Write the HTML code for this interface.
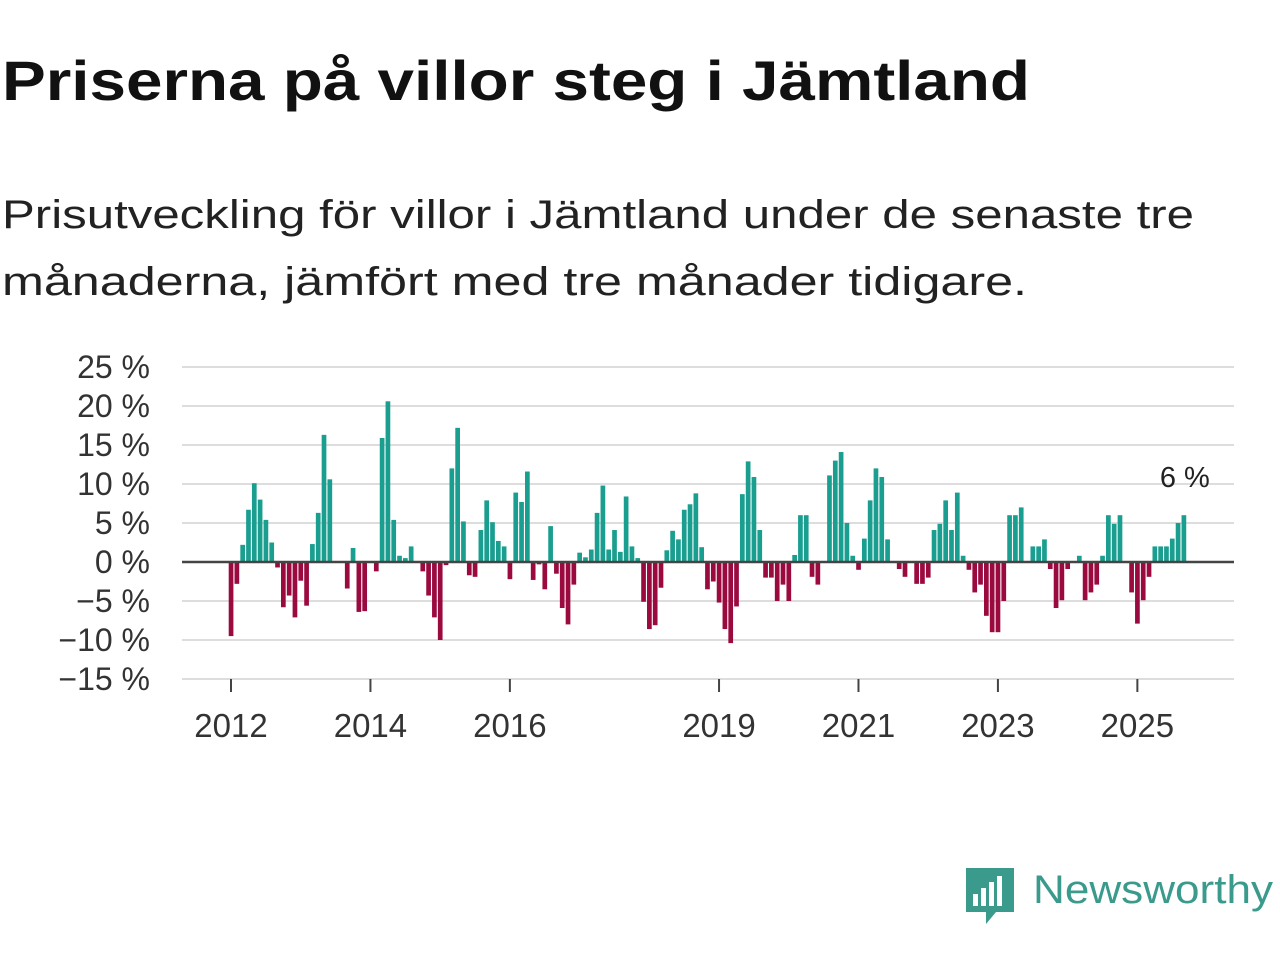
<!DOCTYPE html>
<html><head><meta charset="utf-8"><style>
html,body{margin:0;padding:0;background:#fff;width:1280px;height:960px;overflow:hidden}
text{font-family:"Liberation Sans",sans-serif}
</style></head><body>
<svg id="chart" width="1280" height="960" xmlns="http://www.w3.org/2000/svg">
<text x="2" y="100" font-size="56" font-weight="bold" fill="#111" textLength="1028" lengthAdjust="spacingAndGlyphs">Priserna på villor steg i Jämtland</text>
<text x="2" y="228" font-size="40" fill="#222" textLength="1192" lengthAdjust="spacingAndGlyphs">Prisutveckling för villor i Jämtland under de senaste tre</text>
<text x="2" y="295" font-size="40" fill="#222" textLength="1025" lengthAdjust="spacingAndGlyphs">månaderna, jämfört med tre månader tidigare.</text>
<g id="grid"></g><g id="bars"></g><g id="axes"></g>
<g>
<path d="M966 868 h48 v44 h-18 l-10 12 v-12 h-20 z" fill="#3a9a8c"/>
<rect x="973" y="894" width="5" height="12" fill="#fff"/><rect x="981" y="888" width="5" height="18" fill="#fff"/><rect x="989" y="882" width="5" height="24" fill="#fff"/><rect x="997" y="876" width="5" height="30" fill="#fff"/>
<text x="1033" y="903" font-size="40" fill="#3a9a8c" textLength="240" lengthAdjust="spacingAndGlyphs">Newsworthy</text>
</g>
</svg>
<script>
const values=[-9.5,-2.8,2.2,6.7,10.1,8.0,5.4,2.5,-0.7,-5.8,-4.3,-7.1,
-2.4,-5.6,2.3,6.3,16.3,10.6,0,0,-3.4,1.8,-6.4,-6.3,
0,-1.2,15.9,20.6,5.4,0.8,0.5,2.0,0,-1.2,-4.3,-7.1,
-10.0,-0.4,12.0,17.2,5.2,-1.7,-1.9,4.1,7.9,5.1,2.7,2.0,
-2.2,8.9,7.7,11.6,-2.3,-0.3,-3.5,4.6,-1.5,-5.9,-8.0,-2.9,
1.2,0.6,1.6,6.3,9.8,1.6,4.1,1.3,8.4,2.0,0.5,-5.1,
-8.6,-8.1,-3.3,1.5,4.0,2.9,6.7,7.4,8.8,1.9,-3.5,-2.5,
-5.2,-8.6,-10.4,-5.7,8.7,12.9,10.9,4.1,-2.0,-2.0,-5.0,-2.9,
-5.0,0.9,6.0,6.0,-1.9,-2.9,0,11.1,13.0,14.1,5.0,0.8,
-1.0,3.0,7.9,12.0,10.9,2.9,0,-0.9,-1.9,0,-2.8,-2.8,
-2.0,4.1,4.9,7.9,4.1,8.9,0.8,-1.0,-3.9,-2.9,-6.9,-9.0,
-9.0,-5.0,6.0,6.0,7.0,0,2.0,2.0,2.9,-0.9,-5.9,-4.9,
-0.9,0,0.8,-4.9,-3.9,-2.9,0.8,6.0,4.9,6.0,0,-3.9,
-7.9,-4.9,-1.9,2.0,2.0,2.0,3.0,5.0,6.0];
const startYear=2012;
const yTicks=[25,20,15,10,5,0,-5,-10,-15];
const xTickYears=[2012,2014,2016,2019,2021,2023,2025];
const lastLabel="6 %";
const NS="http://www.w3.org/2000/svg";
const y=v=>562-v*7.8;
const x=i=>231+i*5.81;
const xYear=yr=>x((yr-startYear)*12);
function mk(tag,attrs,parent){const e=document.createElementNS(NS,tag);for(const k in attrs)e.setAttribute(k,attrs[k]);parent.appendChild(e);return e;}
const grid=document.getElementById('grid'),bars=document.getElementById('bars'),axes=document.getElementById('axes');
yTicks.forEach(t=>{
 if(t!==0){const l=mk('line',{x1:182,x2:1234,y1:y(t),y2:y(t),stroke:'#ddd','stroke-width':2},grid);
 
 }
 const tx=mk('text',{x:150,y:y(t)+11,'text-anchor':'end','font-size':32,fill:'#333'},axes);
 tx.textContent=(t<0?'\u2212'+(-t):t)+' %';
 
 
});
values.forEach((v,i)=>{
 if(v===0)return;
 const r=mk('rect',{x:x(i)-2.3,width:4.7,y:Math.min(y(v),y(0)),height:Math.abs(y(v)-y(0)),fill:v>0?'#1a9e8f':'#9b0a3f'},bars);
 
 
});
const z=mk('line',{x1:182,x2:1234,y1:y(0),y2:y(0),stroke:'#444','stroke-width':2.5},axes);


xTickYears.forEach(yr=>{
 const tk=mk('line',{x1:xYear(yr),x2:xYear(yr),y1:679,y2:692,stroke:'#444','stroke-width':2},axes);
 
 
 const tx=mk('text',{x:xYear(yr),y:737,'text-anchor':'middle','font-size':33,fill:'#333'},axes);
 tx.textContent=yr;
 
 
});
const li=values.length-1;
const lab=mk('text',{x:x(li)+26,y:y(10)+3,'text-anchor':'end','font-size':29,fill:'#222'},axes);
lab.textContent=lastLabel;


</script>
</body></html>
